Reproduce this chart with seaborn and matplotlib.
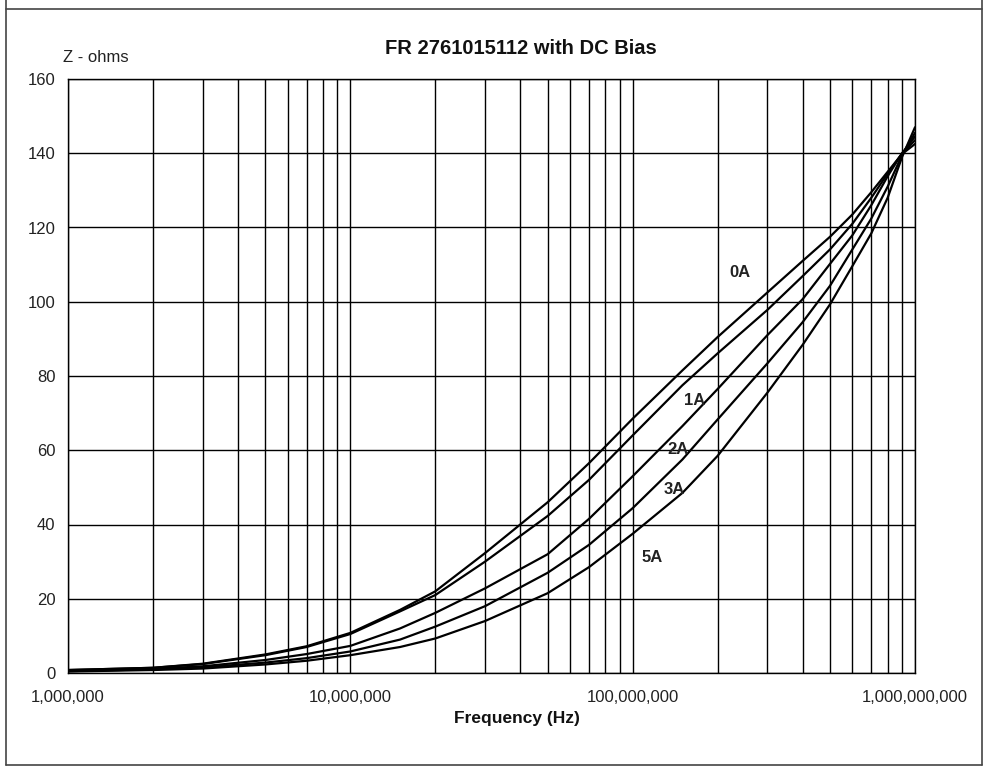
import numpy as np
import pandas as pd
import matplotlib
matplotlib.use("Agg")
import matplotlib.pyplot as plt
import matplotlib.ticker as mticker
import seaborn as sns

# ── Datos ─────────────────────────────────────────────────────────────────────
frecuencias = [1e6, 2e6, 3e6, 5e6, 7e6, 1e7, 1.5e7, 2e7, 3e7, 5e7, 7e7,
               1e8, 1.5e8, 2e8, 3e8, 4e8, 5e8, 6e8, 7e8, 8e8, 9e8, 1e9]

z_0A = [0.8, 1.4, 2.5, 5.0, 7.2, 10.8, 17.0, 22.0, 32.3, 46.0, 56.5,
        68.5, 81.5, 90.5, 102.5, 111.0, 117.5, 123.5, 129.5, 135.0, 139.8, 142.5]
z_1A = [0.8, 1.4, 2.4, 4.8, 7.0, 10.5, 16.6, 21.0, 30.0, 42.3, 52.0,
        64.0, 77.5, 86.1, 97.8, 106.9, 114.1, 121.0, 128.0, 134.5, 140.0, 143.5]
z_2A = [0.6, 1.1, 1.8, 3.5, 5.1, 7.3, 12.0, 16.2, 22.8, 32.0, 41.5,
        53.0, 66.5, 76.5, 91.0, 100.7, 110.2, 117.9, 126.0, 133.8, 140.0, 144.5]
z_3A = [0.5, 1.0, 1.5, 2.8, 4.0, 5.8, 9.0, 12.5, 18.0, 27.0, 34.5,
        44.4, 57.5, 68.3, 83.4, 94.5, 104.3, 114.1, 122.4, 131.0, 139.5, 145.5]
z_5A = [0.4, 0.8, 1.2, 2.3, 3.3, 4.8, 7.0, 9.3, 14.0, 21.5, 28.5,
        37.5, 48.5, 58.5, 75.5, 88.4, 99.3, 109.6, 118.4, 128.0, 139.0, 147.0]

series = {"0A": z_0A, "1A": z_1A, "2A": z_2A, "3A": z_3A, "5A": z_5A}

# Etiquetas junto a las curvas (frecuencia, Z)
etiquetas = ["0A", "1A", "2A", "3A", "5A"]
pos_etiquetas = [(2.40e8, 108.0), (1.66e8, 73.5), (1.45e8, 60.1),
                 (1.40e8, 49.3), (1.17e8, 31.0)]

ticks_x = [1e6, 1e7, 1e8, 1e9]
ticks_y = list(range(0, 161, 20))

# ── Tabla larga para seaborn ──────────────────────────────────────────────────
filas = []
for nombre, valores in series.items():
    for f, z in zip(frecuencias, valores):
        filas.append({"freq": f, "z": z, "bias": nombre})
df = pd.DataFrame(filas)

sns.set_style("white")
plt.rcParams["font.family"] = ["Liberation Sans", "DejaVu Sans"]

W, H = 986, 769
fig = plt.figure(figsize=(W / 100, H / 100), dpi=100)
ax = fig.add_axes([68 / W, 1 - 673 / H, (915 - 68) / W, (673 - 79) / H])

sns.lineplot(data=df, x="freq", y="z", hue="bias", palette=["black"] * 5,
             legend=False, linewidth=1.6, ax=ax, sort=True)
for linea in ax.get_lines():
    linea.set_solid_joinstyle("round")

ax.set_xscale("log")
ax.set_xlim(1e6, 1e9)
ax.set_ylim(0, 160)

ax.xaxis.set_major_locator(mticker.FixedLocator(ticks_x))
ax.xaxis.set_major_formatter(mticker.FuncFormatter(lambda v, p: f"{v:,.0f}"))
ax.xaxis.set_minor_locator(mticker.LogLocator(base=10, subs=np.arange(2, 10)))
ax.xaxis.set_minor_formatter(mticker.NullFormatter())
ax.set_yticks(ticks_y)

ax.grid(True, which="major", axis="both", color="black", linewidth=1.0)
ax.grid(True, which="minor", axis="x", color="black", linewidth=1.0)
ax.set_axisbelow(True)

ax.tick_params(axis="x", which="major", length=4, width=1, color="black",
               pad=8, labelsize=12, labelcolor="#222222", direction="out")
ax.tick_params(axis="x", which="minor", length=0)
ax.tick_params(axis="y", which="major", length=4, width=1, color="black",
               pad=5, labelsize=12, labelcolor="#222222", direction="out")

for lado in ["left", "bottom", "top", "right"]:
    ax.spines[lado].set_visible(True)
    ax.spines[lado].set_color("black")
    ax.spines[lado].set_linewidth(1.0)

ax.set_xlabel("")
ax.set_ylabel("")

for texto, (fx, fy) in zip(etiquetas, pos_etiquetas):
    ax.text(fx, fy, texto, ha="center", va="center", fontsize=12,
            fontweight="bold", color="#222222")

# ── Textos de la figura ───────────────────────────────────────────────────────
fig.text(521 / W, 1 - 48 / H, "FR 2761015112 with DC Bias", ha="center",
         va="center", fontsize=14.5, fontweight="bold", color="#111111")
fig.text(96 / W, 1 - 57 / H, "Z - ohms", ha="center", va="center",
         fontsize=12, color="#222222")
fig.text(517 / W, 1 - 718 / H, "Frequency (Hz)", ha="center", va="center",
         fontsize=12.5, fontweight="bold", color="#111111")

# Marco exterior
borde = "#444444"
for xs, ys in [([6, 6], [0, 765]), ([982, 982], [0, 765]),
               ([6, 982], [9, 9]), ([6, 982], [765, 765])]:
    fig.add_artist(plt.Line2D([x / W for x in xs], [1 - y / H for y in ys],
                              transform=fig.transFigure, color=borde,
                              linewidth=1.2))

fig.savefig("out.png", dpi=100, facecolor="white")
